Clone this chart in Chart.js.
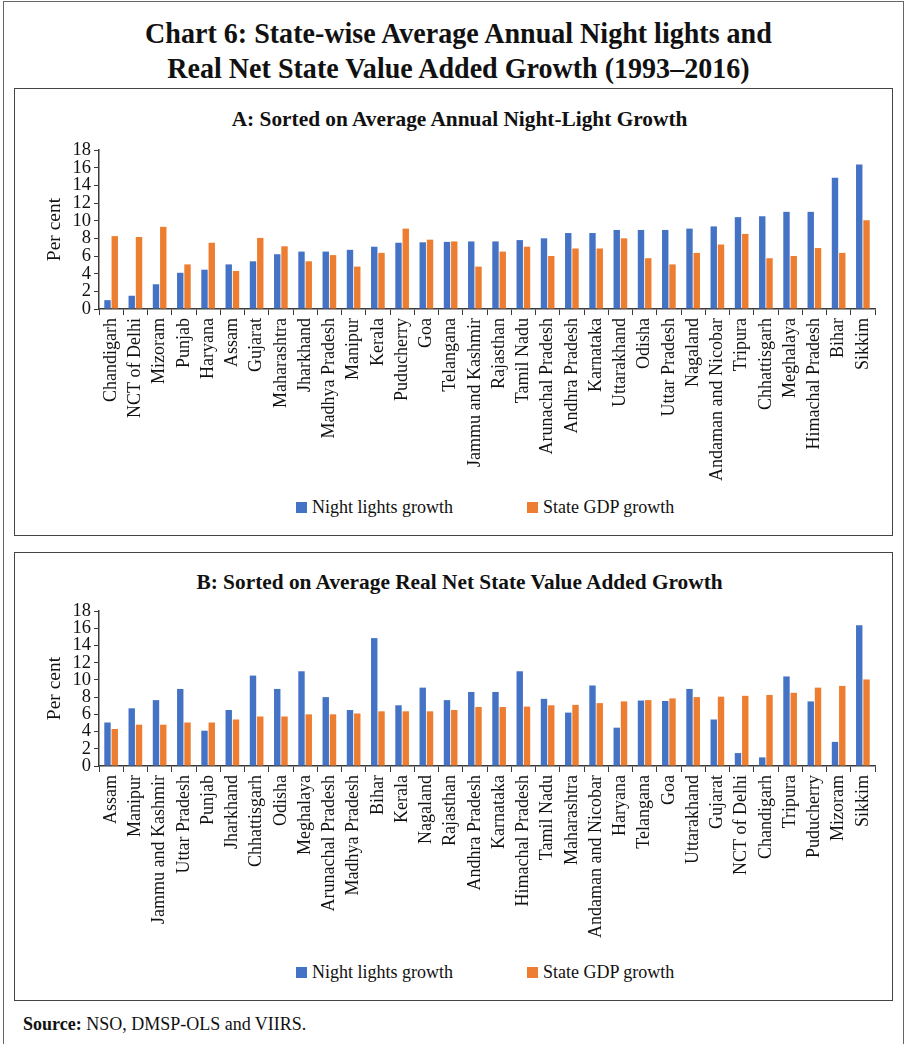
<!DOCTYPE html>
<html>
<head>
<meta charset="utf-8">
<script src="https://cdn.jsdelivr.net/npm/chart.js@4.4.1/dist/chart.umd.min.js"></script>
<style>
  html, body { margin: 0; padding: 0; background: #fff; }
  body { width: 905px; height: 1044px; position: relative; overflow: hidden;
         font-family: 'Liberation Serif', 'Times New Roman', serif; color: #111; }
  #frame { position: absolute; left: 3px; top: 1px; width: 899px; height: 1100px; border: 1px solid #666; }
  .title { position: absolute; left: 6px; width: 905px; text-align: center; font-weight: bold;
           font-size: 30px; line-height: 35px; top: 15px; transform: scaleX(0.935); transform-origin: 452px 0; }
  .panel { position: absolute; left: 14px; width: 879px; border: 1.5px solid #444; box-sizing: border-box; }
  .sub { position: absolute; left: 6px; width: 100%; text-align: center; font-weight: bold; font-size: 22px;
         transform: scaleX(0.97); transform-origin: 440px 0; }
  canvas { position: absolute; }
  .legend { position: absolute; font-size: 18px; line-height: 20px; white-space: nowrap; }
  .legend span.box { position: absolute; width: 11px; height: 11px; top: 5px; }
  .legend span.txt { position: absolute; top: 0; }
  #source { position: absolute; left: 23px; top: 1014px; font-size: 18px; }
</style>
</head>
<body>
<div id="frame"></div>
<div class="title">Chart 6: State-wise Average Annual Night lights and<br>Real Net State Value Added Growth (1993–2016)</div>

<div class="panel" style="top:88px;height:448px;">
  <div class="sub" style="top:17px;">A: Sorted on Average Annual Night-Light Growth</div>
</div>
<canvas id="chartA" width="881" height="360" style="left:14px;top:135px;"></canvas>
<div class="legend" style="left:296px;top:497px;">
  <span class="box" style="left:0;background:#4472C4;"></span><span class="txt" style="left:16px;">Night lights growth</span>
  <span class="box" style="left:231px;background:#ED7D31;"></span><span class="txt" style="left:247px;">State GDP growth</span>
</div>

<div class="panel" style="top:552px;height:449px;">
  <div class="sub" style="top:16px;">B: Sorted on Average Real Net State Value Added Growth</div>
</div>
<canvas id="chartB" width="881" height="360" style="left:14px;top:596px;"></canvas>
<div class="legend" style="left:296px;top:962px;">
  <span class="box" style="left:0;background:#4472C4;"></span><span class="txt" style="left:16px;">Night lights growth</span>
  <span class="box" style="left:231px;background:#ED7D31;"></span><span class="txt" style="left:247px;">State GDP growth</span>
</div>

<div id="source"><b>Source:</b> NSO, DMSP-OLS and VIIRS.</div>

<script>
// Panel A: states ordered by average annual night-light growth (per cent)
const statesA = ['Chandigarh', 'NCT of Delhi', 'Mizoram', 'Punjab', 'Haryana', 'Assam', 'Gujarat',
  'Maharashtra', 'Jharkhand', 'Madhya Pradesh', 'Manipur', 'Kerala', 'Puducherry', 'Goa', 'Telangana',
  'Jammu and Kashmir', 'Rajasthan', 'Tamil Nadu', 'Arunachal Pradesh', 'Andhra Pradesh', 'Karnataka',
  'Uttarakhand', 'Odisha', 'Uttar Pradesh', 'Nagaland', 'Andaman and Nicobar', 'Tripura', 'Chhattisgarh',
  'Meghalaya', 'Himachal Pradesh', 'Bihar', 'Sikkim'];
const nightA = [1.0, 1.5, 2.8, 4.1, 4.45, 5.05, 5.4, 6.2, 6.5, 6.5, 6.7, 7.05, 7.5, 7.55, 7.6,
  7.65, 7.65, 7.8, 8.0, 8.6, 8.6, 8.95, 8.95, 8.95, 9.1, 9.35, 10.4, 10.5, 11.0, 11.0, 14.85, 16.35];
const gdpA = [8.25, 8.15, 9.3, 5.05, 7.5, 4.3, 8.05, 7.1, 5.4, 6.1, 4.8, 6.35, 9.1, 7.85, 7.65,
  4.8, 6.5, 7.05, 6.0, 6.85, 6.85, 8.0, 5.75, 5.05, 6.35, 7.3, 8.5, 5.75, 6.0, 6.9, 6.35, 10.05];

// Panel B: states ordered by average real net state value added growth (per cent)
const statesB = ['Assam', 'Manipur', 'Jammu and Kashmir', 'Uttar Pradesh', 'Punjab', 'Jharkhand',
  'Chhattisgarh', 'Odisha', 'Meghalaya', 'Arunachal Pradesh', 'Madhya Pradesh', 'Bihar', 'Kerala',
  'Nagaland', 'Rajasthan', 'Andhra Pradesh', 'Karnataka', 'Himachal Pradesh', 'Tamil Nadu', 'Maharashtra',
  'Andaman and Nicobar', 'Haryana', 'Telangana', 'Goa', 'Uttarakhand', 'Gujarat', 'NCT of Delhi',
  'Chandigarh', 'Tripura', 'Puducherry', 'Mizoram', 'Sikkim'];
const nightB = [5.05, 6.7, 7.65, 8.95, 4.1, 6.5, 10.5, 8.95, 11.0, 8.0, 6.5, 14.85, 7.05, 9.1, 7.65,
  8.6, 8.6, 11.0, 7.8, 6.2, 9.35, 4.45, 7.6, 7.55, 8.95, 5.4, 1.5, 1.0, 10.4, 7.5, 2.8, 16.35];
const gdpB = [4.3, 4.8, 4.8, 5.05, 5.05, 5.4, 5.75, 5.75, 6.0, 6.0, 6.1, 6.35, 6.35, 6.35, 6.5,
  6.85, 6.85, 6.9, 7.05, 7.1, 7.3, 7.5, 7.65, 7.85, 8.0, 8.05, 8.15, 8.25, 8.5, 9.1, 9.3, 10.05];

// Value axis: 0 to 18 per cent in steps of 2
const yMin = 0, yMax = 18, yStep = 2;

Chart.defaults.font.family = "'Liberation Serif', 'Times New Roman', serif";
Chart.defaults.font.size = 18;
Chart.defaults.color = '#111';

const AXIS = '#3a3a3a';
const BLUE = '#4472C4', ORANGE = '#ED7D31';

function drawPanel(id, labels, night, gdp, xAxisHeight) {
  return new Chart(document.getElementById(id), {
    type: 'bar',
    data: {
      labels: labels,
      datasets: [
        { label: 'Night lights growth', data: night, backgroundColor: BLUE,
          categoryPercentage: 0.6, barPercentage: 0.88 },
        { label: 'State GDP growth', data: gdp, backgroundColor: ORANGE,
          categoryPercentage: 0.6, barPercentage: 0.88 }
      ]
    },
    options: {
      responsive: false,
      animation: false,
      devicePixelRatio: 1,
      layout: { padding: { top: 15, right: 20, bottom: 0, left: 0 } },
      plugins: { legend: { display: false }, tooltip: { enabled: false } },
      scales: {
        x: {
          offset: true,
          grid: { display: true, drawOnChartArea: false, drawTicks: true, tickLength: 6,
                  offset: true, color: AXIS, lineWidth: 1 },
          border: { display: true, color: AXIS, width: 1.5 },
          ticks: { autoSkip: false, minRotation: 90, maxRotation: 90, padding: 3, color: '#111',
                   font: { size: 18 } },
          afterFit: s => { s.height = xAxisHeight; }
        },
        y: {
          min: yMin, max: yMax,
          grid: { display: true, drawOnChartArea: false, drawTicks: true, tickLength: 5,
                  color: AXIS, lineWidth: 1 },
          border: { display: true, color: AXIS, width: 1.5 },
          ticks: { stepSize: yStep, autoSkip: false, padding: 3, color: '#111', font: { size: 18.5 } },
          title: { display: true, text: 'Per cent', color: '#111', font: { size: 19.5 },
                   padding: { top: 29, bottom: 0 } },
          afterFit: s => { s.width = 85; }
        }
      }
    }
  });
}

drawPanel('chartA', statesA, nightA, gdpA, 186);
drawPanel('chartB', statesB, nightB, gdpB, 190);
</script>
</body>
</html>
